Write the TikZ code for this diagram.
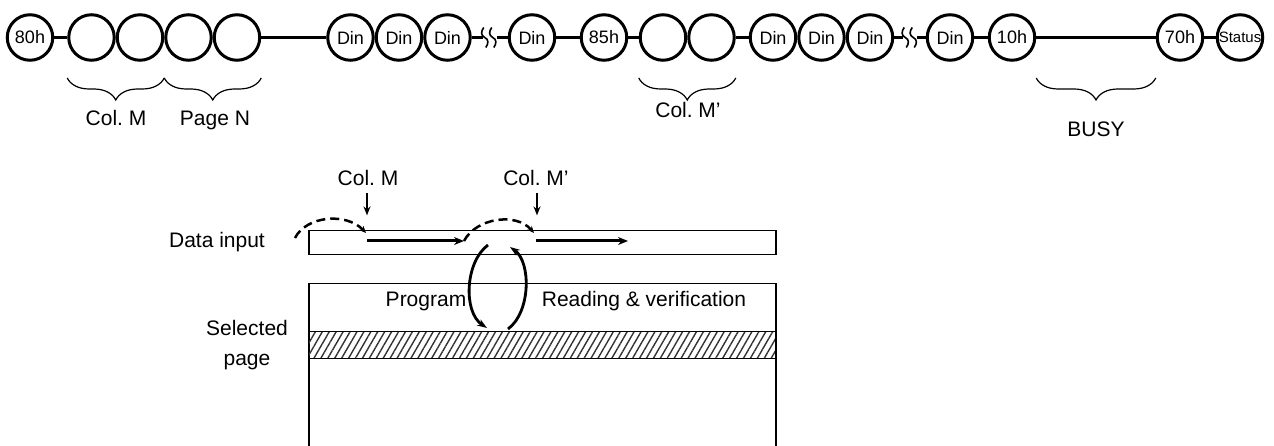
\documentclass[tikz,border=0pt]{standalone}
\usepackage{fontspec}
\setmainfont{Liberation Sans}
\usetikzlibrary{positioning}
\usetikzlibrary{arrows.meta}
\usetikzlibrary{decorations.pathreplacing}
\usetikzlibrary{patterns.meta}
\frenchspacing
\tikzset{x=1pt, y=-1pt, % One unit is one pixel, y runs down
>={Stealth[length=10pt, width=8pt]},
byte/.style={ % One cycle on the bus
circle, draw, line width=3pt,
minimum size=45.5pt, inner sep=0pt,
font=\fontsize{18}{18}\selectfont},
wire/.style={line width=3pt},
grp/.style={ % Bracket under a group of cycles
decorate, decoration={brace, mirror, amplitude=22pt},
line width=1.2pt},
lbl/.style={font=\fontsize{21}{30}\selectfont, inner sep=0pt, anchor=base},
area/.style={draw, line width=1.5pt, inner sep=0pt,
anchor=north west, minimum width=467pt},
feed/.style={->, line width=3pt},
hop/.style={->, >={Stealth[length=7pt, width=6pt]},
line width=2.5pt, dash pattern=on 9pt off 5pt},
ring/.style={->, >={Stealth[length=10pt, width=7pt]}, line width=2.8pt},
pointer/.style={->, >={Stealth[length=9pt, width=7pt]}, line width=2pt},
wavebreak/.pic={ % Cut in the bus
\draw[line width=1.6pt] (1,-10) .. controls (-2,-6) and (-2,-2) .. (2,0)
  .. controls (6,2) and (6,6) .. (3,10);
\draw[line width=1.6pt] (9,-10) .. controls (6,-6) and (6,-2) .. (10,0)
  .. controls (14,2) and (14,6) .. (11,10);}}

\begin{document}
\begin{tikzpicture}
    \useasboundingbox (0,0) rectangle (1274,446);
    % command sequence
    \node[byte] (c80) at (30,37.5) {80h};
    \node[byte, right=13pt of c80] (a1) {};
    \node[byte, right=0pt of a1] (a2) {};
    \node[byte, right=0pt of a2] (a3) {};
    \node[byte, right=0pt of a3] (a4) {};
    \node[byte, right=65pt of a4] (d1) {Din};
    \node[byte, right=0pt of d1] (d2) {Din};
    \node[byte, right=0pt of d2] (d3) {Din};
    \node[byte, right=36pt of d3] (d4) {Din};
    \node[byte, right=23.5pt of d4] (c85) {85h};
    \node[byte, right=10.5pt of c85] (b1) {};
    \node[byte, right=0pt of b1] (b2) {};
    \node[byte, right=13pt of b2] (e1) {Din};
    \node[byte, right=0pt of e1] (e2) {Din};
    \node[byte, right=0pt of e2] (e3) {Din};
    \node[byte, right=31.5pt of e3] (e4) {Din};
    \node[byte, right=13.5pt of e4] (c10) {10h};
    \node[byte, right=119.5pt of c10] (c70) {70h};
    \node[byte, right=11.5pt of c70, font=\fontsize{15}{15}\selectfont] (st) {\makebox[0pt]{Status}};
    \draw[wire] (c80) -- (a1);
    \draw[wire] (a4) -- (d1);
    \draw[wire] (d3.east) -- ++(11,0) pic {wavebreak};
    \draw[wire] (d4.west) -- ++(-11,0);
    \draw[wire] (d4) -- (c85);
    \draw[wire] (c85) -- (b1);
    \draw[wire] (b2) -- (e1);
    \draw[wire] (e3.east) -- ++(9,0) pic {wavebreak};
    \draw[wire] (e4.west) -- ++(-8.5,0);
    \draw[wire] (e4) -- (c10);
    \draw[wire] (c10) -- (c70);
    \draw[wire] (c70) -- (st);
    % groups
    \draw[grp] (a1.west |- 0,78) -- (a2.east |- 0,78);
    \draw[grp] (a3.west |- 0,78) -- (a4.east |- 0,78);
    \draw[grp] (b1.west |- 0,78) -- (b2.east |- 0,78);
    \draw[grp] (c10.east |- 0,78) -- (c70.west |- 0,78);
    \node[lbl] (tcol) at (116,126) {Col. M};
    \node[lbl] (tpage) at (215,126) {Page N};
    \node[lbl] (tcol2) at (688,118) {Col. M'};
    \node[lbl] (tbusy) at (1096,137) {BUSY};
    % buffer and page
    \node[area, minimum height=24pt] (buf) at (308,230) {};
    \node[area, minimum height=172pt] (arr) at (308,283) {};
    \node[area, minimum height=27pt, pattern={Lines[angle=60, distance=6pt, line width=1.4pt]},
      pattern color=black!80] (sel) at (308,331) {};
    \node[lbl] (tin) at (217,248) {Data input};
    \node[lbl, align=center] (tsel) at (247,365) {Selected\\page};
    \node[lbl] (tprog) at (426,306) {Program};
    \node[lbl] (tread) at (644,306) {Reading \& verification};
    \node[lbl] (pcol) at (368,186) {Col. M};
    \node[lbl] (pcol2) at (536,186) {Col. M'};
    \draw[pointer] (pcol.south) ++(-1,7) -- ++(0,22);
    \draw[pointer] (pcol2.south) ++(1,7) -- ++(0,22);
    % data moves
    \coordinate (m1) at (295,238);
    \coordinate (m2) at (366,233);
    \coordinate (m3) at (367,241);
    \coordinate (m4) at (464,241);
    \coordinate (m5) at (534,233);
    \coordinate (m6) at (536,241);
    \coordinate (m7) at (628,241);
    \draw[hop] (m1) .. controls (306,216) and (346,212) .. (m2);
    \draw[feed] (m3) -- (m4);
    \draw[hop] (m4) .. controls (476,218) and (516,212) .. (m5);
    \draw[feed] (m6) -- (m7);
    \coordinate (r1) at (488,245);
    \coordinate (r2) at (487,328);
    \coordinate (r3) at (508,329);
    \coordinate (r4) at (510,247);
    \draw[ring] (r1) .. controls (465,262) and (463,312) .. (r2);
    \draw[ring] (r3) .. controls (531,312) and (531,262) .. (r4);
  \end{tikzpicture}
\end{document}
